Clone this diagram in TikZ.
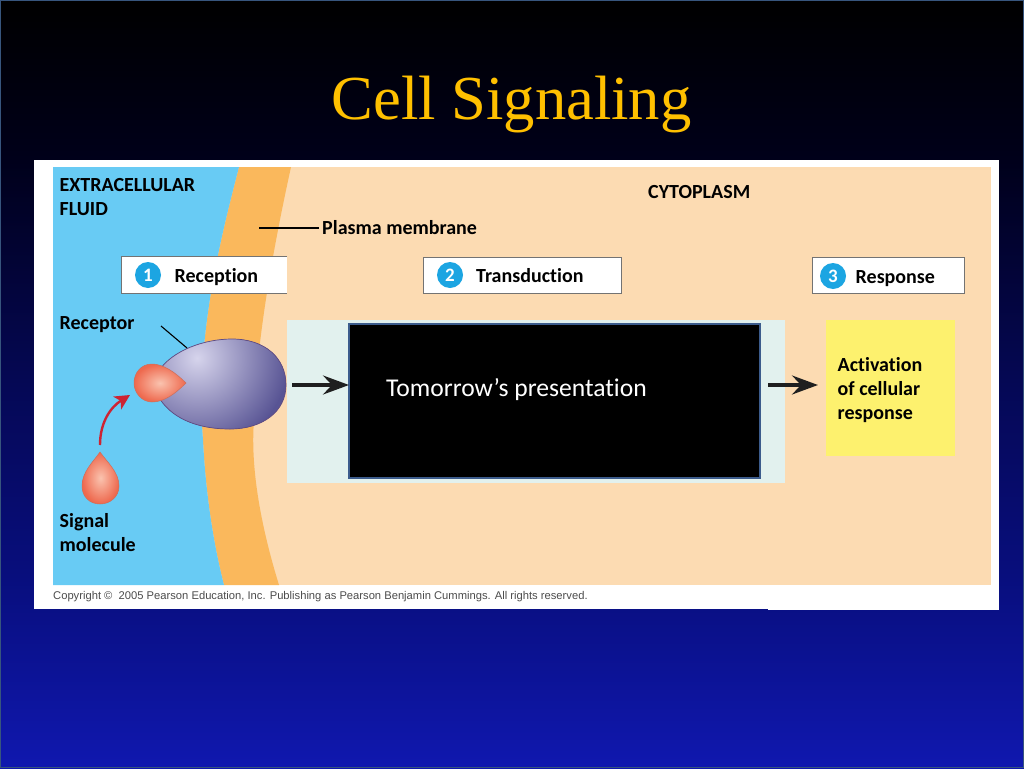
\documentclass[tikz,border=0pt]{standalone}
\usepackage{fontspec}
\setmainfont[RawFeature={-liga}]{Carlito}
\newfontfamily\titlefont{Liberation Serif}
\newfontfamily\copyfont{Liberation Sans}
\usetikzlibrary{arrows.meta}
\definecolor{fluidblue}{RGB}{104,203,244}
\definecolor{membrane}{RGB}{250,184,92}
\definecolor{cyto}{RGB}{252,219,178}
\definecolor{paleteal}{RGB}{226,241,238}
\definecolor{sticky}{RGB}{253,241,110}
\definecolor{framebl}{RGB}{60,92,140}
\definecolor{stepblue}{RGB}{28,165,226}
\definecolor{titlegold}{RGB}{255,192,0}
\definecolor{edgeblue}{RGB}{55,85,125}
\definecolor{bgA}{RGB}{16,24,175}
\definecolor{bgB}{RGB}{8,14,125}
\definecolor{bgC}{RGB}{5,8,85}
\definecolor{bgD}{RGB}{0,0,25}
\definecolor{bgE}{RGB}{0,0,0}
\definecolor{recIn}{RGB}{214,212,236}
\definecolor{recOut}{RGB}{88,84,148}
\definecolor{recEdge}{RGB}{95,75,130}
\definecolor{dropIn}{RGB}{250,195,175}
\definecolor{dropOut}{RGB}{238,105,78}
\definecolor{dropEdge}{RGB}{205,110,90}
\definecolor{arrowred}{RGB}{205,35,50}
\pgfdeclareverticalshading{slidebg}{100bp}{
 color(0bp)=(bgA);
 color(25bp)=(bgA);
 color(37.5bp)=(bgB);
 color(50bp)=(bgC);
 color(65bp)=(bgD);
 color(75bp)=(bgE);
 color(100bp)=(bgE)}
\tikzset{
 x=1pt,y=-1pt,
 lab/.style={font=\fontsize{20}{24}\selectfont\bfseries,text=black,inner sep=0pt,align=left,anchor=west},
 base lab/.style={lab,anchor=base west},
 stepbox/.style={fill=white,inner sep=0pt,outer sep=0pt,anchor=north west},
 stepline/.style={draw=black!55,line width=1pt},
 stepnum/.style={circle,fill=stepblue,text=white,minimum size=26pt,inner sep=0pt,font=\fontsize{19}{19}\selectfont\bfseries},
 flow/.style={-{Stealth[length=26pt,width=19pt,inset=9pt]},line width=3.4pt,black!88},
 leader/.style={black,line width=1.1pt},
 droplet/.style={inner color=dropIn,outer color=dropOut}
}
\begin{document}
\begin{tikzpicture}
\useasboundingbox (0,0) rectangle (1024,768);
\shade[shading=slidebg] (0,0) rectangle (1024,768);
\draw[edgeblue,line width=1.4pt] (0.7,0.7) rectangle (1023.3,767.3);
\node[inner sep=0pt,anchor=base,text=titlegold,font=\titlefont\fontsize{62.6}{62.6}\selectfont] (title) at (511.5,119) {Cell Signaling};
% panel
\fill[white] (34,160) rectangle (768,608.5);
\fill[white] (768,160) rectangle (999,610);
\fill[cyto] (53,167) rectangle (991,585);
\fill[membrane] (239,167) .. controls (220,240) and (195,340) .. (203,440) .. controls (206,500) and (215,550) .. (224,585)
 -- (279,585) .. controls (262,530) and (250,470) .. (254,420) .. controls (256,340) and (275,240) .. (291,167) -- cycle;
\fill[fluidblue] (53,167) -- (239,167) .. controls (220,240) and (195,340) .. (203,440) .. controls (206,500) and (215,550) .. (224,585) -- (53,585) -- cycle;
% transduction area
\fill[paleteal] (287,320) rectangle (785,483);
\node[fill=black,draw=framebl,line width=2.4pt,outer sep=0pt,minimum width=411pt,minimum height=154pt,anchor=north west,inner sep=0pt] (blackbox) at (349,324) {};
\node[anchor=west,inner sep=0pt,text=white,font=\fontsize{25.6}{28}\selectfont] (tomorrow) at (386,390) {Tomorrow’s presentation};
\node[fill=sticky,minimum width=129pt,minimum height=136pt,anchor=north west,inner sep=0pt] (activation) at (826,320) {};
% receptor
\def\recpath{(158,372) .. controls (172,350) and (205,339) .. (232,339) .. controls (265,339) and (286,358) .. (286,385)
 .. controls (286,412) and (262,429) .. (230,429) .. controls (195,429) and (170,417) .. (158,396) -- cycle}
\begin{scope}
\clip \recpath;
\fill[recOut] (150,330) rectangle (295,435);
\shade[inner color=recIn,outer color=recOut] (197,358) circle (92);
\end{scope}
\draw[recEdge,line width=0.7pt] \recpath;
% bound signal
\shade[droplet,draw=dropEdge,line width=0.5pt] (186,383) .. controls (175,372) and (163,364) .. (152,364) .. controls (141,364) and (134,373) .. (134,383)
 .. controls (134,393) and (142,402) .. (152,402) .. controls (164,402) and (175,394) .. (186,383) -- cycle;
\coordinate (bound) at (130,395);
% free signal
\shade[droplet,draw=dropEdge,line width=0.5pt] (100,452) .. controls (107,462) and (119,472) .. (119,486) .. controls (119,497) and (110,504) .. (100,504)
 .. controls (90,504) and (82,497) .. (82,486) .. controls (82,472) and (93,462) .. (100,452) -- cycle;
\coordinate (free) at (100,445);
\draw[-{Stealth[length=15pt,width=15pt,inset=4pt]},line width=2.4pt,arrowred] (free) to[out=90,in=212] (bound);
% step boxes
\node[stepbox,minimum width=165.5pt,minimum height=36.5pt] (box1) at (121.5,256.5) {};
\draw[stepline] (box1.north east) -- (box1.north west) -- (box1.south west) -- (box1.south east);
\node[stepbox,minimum width=197.5pt,minimum height=35.5pt] (box2) at (423.5,257.5) {};
\draw[stepline] (box2.north west) rectangle (box2.south east);
\node[stepbox,minimum width=151.5pt,minimum height=35.5pt] (box3) at (812.5,257.5) {};
\draw[stepline] (box3.north west) rectangle (box3.south east);
\node[stepnum] (n1) at (148,275) {1};
\node[stepnum] (n2) at (450,275) {2};
\node[stepnum] (n3) at (833,276) {3};
\node[base lab] (reception) at (174.5,282) {Reception};
\node[base lab] (transduction) at (476,282) {Transduction};
\node[base lab] (response) at (855.5,283) {Response};
% labels
\node[lab] (ecf) at (59.5,197) {EXTRACELLULAR\\FLUID};
\node[base lab] (cytoplasm) at (648,198) {CYTOPLASM};
\node[base lab] (plasma) at (322,234) {Plasma membrane};
\node[base lab] (receptor) at (59.5,329) {Receptor};
\node[lab] (signal) at (59.5,533) {Signal\\molecule};
\node[lab] (act) at (837.5,390) {Activation\\of cellular\\response};
\node[anchor=west,inner sep=0pt,text=black!70,font=\copyfont\fontsize{11.2}{12}\selectfont] (copy) at (53,596.5) {Copyright ©\ \ 2005 Pearson Education, Inc. Publishing as Pearson Benjamin Cummings. All rights reserved.};
% connectors
\coordinate (memb) at (259,228);
\coordinate (membE) at (319,228);
\draw[leader] (membE) -- (memb);
\coordinate (recA) at (161,326);
\coordinate (recB) at (187,348);
\draw[leader] (recA) -- (recB);
\coordinate (a1) at (292,385);
\draw[flow] (a1) -- (blackbox.west |- a1);
\coordinate (a2) at (768,385);
\coordinate (a2e) at (818,385);
\draw[flow] (a2) -- (a2e);
\end{tikzpicture}
\end{document}
